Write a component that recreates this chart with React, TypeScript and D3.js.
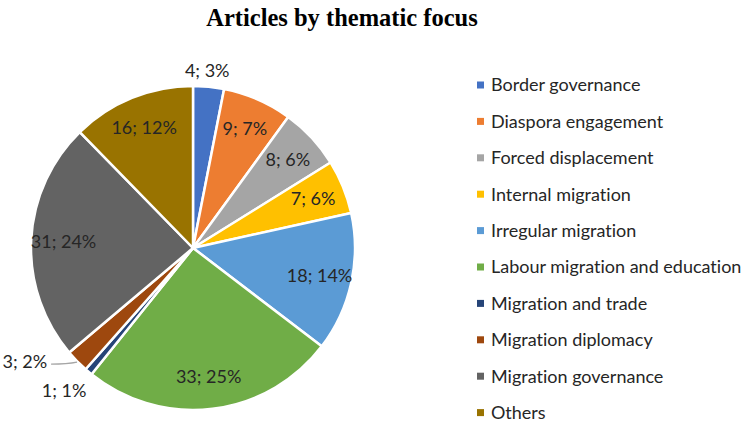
import React from 'react';
import * as d3 from 'd3';

const categories = [
  'Border governance',
  'Diaspora engagement',
  'Forced displacement',
  'Internal migration',
  'Irregular migration',
  'Labour migration and education',
  'Migration and trade',
  'Migration diplomacy',
  'Migration governance',
  'Others',
];
const counts = [4, 9, 8, 7, 18, 33, 1, 3, 31, 16];
const percentLabels = ['3%', '7%', '6%', '6%', '14%', '25%', '1%', '2%', '24%', '12%'];
const colors = ['#4472C4', '#ED7D31', '#A5A5A5', '#FFC000', '#5B9BD5', '#70AD47', '#264478', '#9E480E', '#636363', '#997300'];
// where Excel put each data label
const labelPlacement = ['outside', 'inside', 'inside', 'inside', 'inside', 'inside', 'outside', 'leader', 'inside', 'inside'];

const W = 749;
const H = 422;
const cx = 193;
const cy = 248;
const R = 162;
const FONT = 'Lato, "Noto Sans", sans-serif';
const FS = 18;

const App: React.FC = () => {
  const data = categories.map((c, i) => ({ name: c, value: counts[i], i }));
  const pie = d3.pie<typeof data[0]>().value(d => d.value).sort(null);
  const arcs = pie(data);
  const arc = d3.arc<d3.PieArcDatum<typeof data[0]>>().innerRadius(0).outerRadius(R);
  const inner = d3.arc<d3.PieArcDatum<typeof data[0]>>().innerRadius(R * 0.8).outerRadius(R * 0.8);
  const outer = d3.arc<d3.PieArcDatum<typeof data[0]>>().innerRadius(R * 1.1).outerRadius(R * 1.1);
  const edge = d3.arc<d3.PieArcDatum<typeof data[0]>>().innerRadius(R).outerRadius(R);

  const legendY = d3.scalePoint<string>().domain(categories).range([85, 412.6]);
  const textStyle = { fontVariantLigatures: 'none' as const };

  return (
    <svg width={W} height={H} style={{ position: 'absolute', left: 0, top: 0, background: '#fff' }}>
      <text x={342} y={26} textAnchor="middle" fontFamily='"Liberation Serif", "Times New Roman", serif'
        fontWeight="bold" fontSize={24.5} fill="#000">Articles by thematic focus</text>
      <g transform={`translate(${cx},${cy})`}>
        {arcs.map(a => (
          <path key={a.data.name} d={arc(a) || ''} fill={colors[a.data.i]} stroke="#fff" strokeWidth={2.5} strokeLinejoin="round" />
        ))}
        {arcs.map(a => {
          const mode = labelPlacement[a.data.i];
          const txt = `${a.data.value}; ${percentLabels[a.data.i]}`;
          if (mode === 'inside') {
            const [x, y] = inner.centroid(a);
            return <text key={a.data.name} x={x} y={y} dy="0.35em" textAnchor="middle" fontFamily={FONT} fontSize={FS} fill="#262626" style={textStyle}>{txt}</text>;
          }
          if (mode === 'outside') {
            const [x, y] = outer.centroid(a);
            const mid = (a.startAngle + a.endAngle) / 2;
            const dx = mid > Math.PI ? -14 : -3;
            const dy = mid > Math.PI ? 6 : 0;
            return <text key={a.data.name} x={x + dx} y={y + dy} dy="0.35em" textAnchor="middle" fontFamily={FONT} fontSize={FS} fill="#262626" style={textStyle}>{txt}</text>;
          }
          const [ex, ey] = edge.centroid(a);
          const lx = ex - 26;
          const ly = ey + 3;
          return (
            <g key={a.data.name}>
              <path d={`M${ex},${ey + 1} Q${ex - 10},${ly} ${lx},${ly}`} fill="none" stroke="#A6A6A6" strokeWidth={1.2} />
              <text x={lx - 4} y={ly - 2} dy="0.35em" textAnchor="end" fontFamily={FONT} fontSize={FS} fill="#262626" style={textStyle}>{txt}</text>
            </g>
          );
        })}
      </g>
      <g>
        {categories.map((c, i) => (
          <g key={c} transform={`translate(477,${legendY(c)})`}>
            <rect x={0} y={-3.5} width={7} height={7} fill={colors[i]} />
            <text x={14} y={0} dy="0.35em" fontFamily={FONT} fontSize={FS} fill="#262626" style={textStyle}>{c}</text>
          </g>
        ))}
      </g>
    </svg>
  );
};

export default App;
